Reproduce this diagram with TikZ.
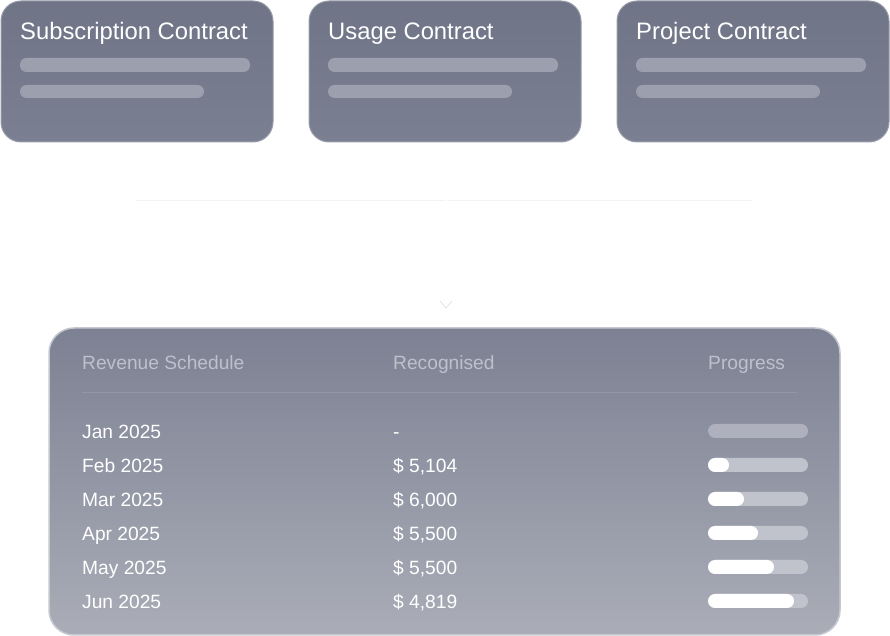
\documentclass[tikz,border=0pt]{standalone}
\usepackage{fontspec}
\setmainfont{Liberation Sans}
\definecolor{boxtop}{RGB}{111,116,135}
\definecolor{boxbot}{RGB}{123,127,146}
\definecolor{boxline}{RGB}{152,156,170}
\definecolor{skel}{RGB}{156,160,174}
\definecolor{pantop}{RGB}{124,129,147}
\definecolor{panbot}{RGB}{170,173,183}
\definecolor{panline}{RGB}{198,200,208}
\definecolor{headtxt}{RGB}{190,193,203}
\definecolor{sepline}{RGB}{146,151,166}
\definecolor{track}{RGB}{193,195,204}
\definecolor{trackjan}{RGB}{174,177,189}
\definecolor{faint}{RGB}{243,243,246}
\tikzset{
  card/.style={draw=boxline, line width=1pt, rounded corners=20pt, top color=boxtop, bottom color=boxbot},
  cardtitle/.style={anchor=base west, inner sep=0pt, text=white, font=\fontsize{23.8}{27}\selectfont},
  skelbar/.style={fill=skel, rounded corners=6.5pt},
  headcell/.style={anchor=base west, inner sep=0pt, text=headtxt, font=\fontsize{19.2}{22}\selectfont},
  rowcell/.style={anchor=base west, inner sep=0pt, text=white, font=\fontsize{19.2}{22}\selectfont},
  trackbar/.style={fill=track, rounded corners=7pt},
  fillbar/.style={fill=white, rounded corners=7pt}
}
\begin{document}
\begin{tikzpicture}[x=1pt,y=1pt]
\useasboundingbox (0,0) rectangle (890,636);
\fill[white] (0,0) rectangle (890,636);
% top cards
\foreach \x/\t/\n in {1/Subscription Contract/c1, 309/Usage Contract/c2, 617/Project Contract/c3}{
  \path[card] (\x,494) rectangle ++(272,141);
  \node[cardtitle] (\n) at (\x+19,596.5) {\t};
  \path[skelbar] (\x+19,564) rectangle ++(230,14);
  \path[skelbar] (\x+19,538) rectangle ++(184,13);
}
% faint connector pieces
\coordinate (l1) at (136,435);
\coordinate (l2) at (445,435);
\coordinate (l3) at (447,435);
\coordinate (l4) at (752,435);
\draw[faint, line width=1pt] (l1) -- (l2);
\draw[faint, line width=1pt] (l3) -- (l4);
\coordinate (cv) at (446,328);
\draw[gray!25, line width=0.6pt] ([shift={(-6,7)}]cv) -- (cv) -- ([shift={(6,7)}]cv);
% panel
\path[draw=panline, line width=1.5pt, rounded corners=25pt, top color=pantop, bottom color=panbot] (49,1) rectangle (840,308);
\node[headcell] (h1) at (82,266) {Revenue Schedule};
\node[headcell] (h2) at (393,266) {Recognised};
\node[headcell] (h3) at (708,266) {Progress};
\draw[sepline, line width=1pt] (82,243) -- (797,243);
% rows
\foreach \y/\m/\v/\w [count=\i] in {197/{Jan 2025}/{-}/0, 163/{Feb 2025}/{\$ 5,104}/21, 129/{Mar 2025}/{\$ 6,000}/36, 95/{Apr 2025}/{\$ 5,500}/50, 61/{May 2025}/{\$ 5,500}/66, 27/{Jun 2025}/{\$ 4,819}/86}{
  \node[rowcell] (m\i) at (82,\y) {\m};
  \node[rowcell] (v\i) at (393,\y) {\v};
  \ifnum\i=1
    \path[fill=trackjan, rounded corners=7pt] (708,\y+1) rectangle ++(100,14);
  \else
    \path[trackbar] (708,\y+1) rectangle ++(100,14);
    \path[fillbar] (708,\y+1) rectangle ++(\w,14);
  \fi
}
\end{tikzpicture}
\end{document}
